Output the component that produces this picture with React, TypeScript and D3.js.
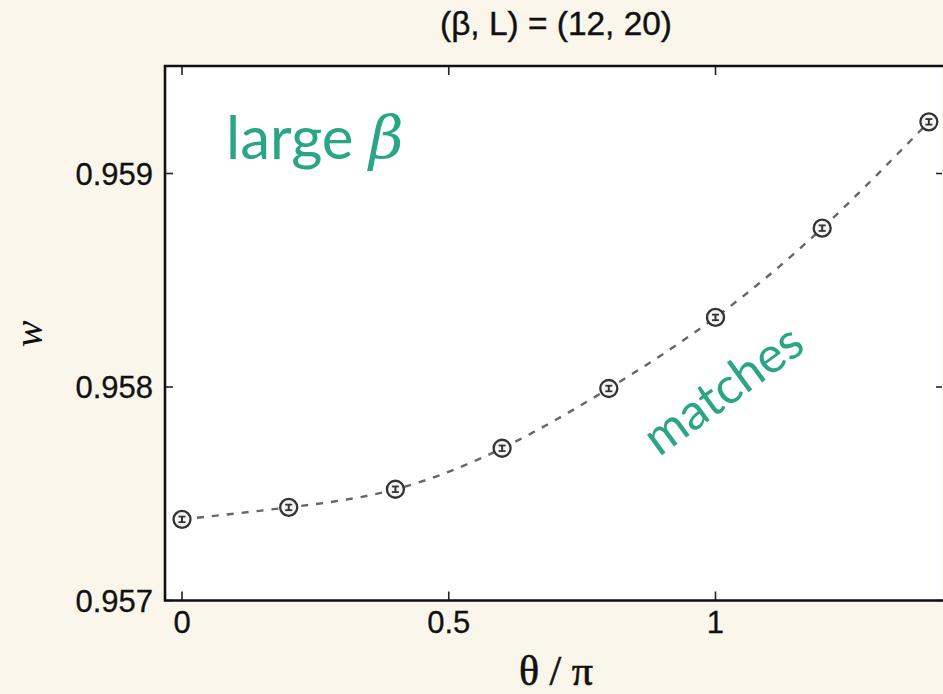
import React, { useRef, useEffect } from "react";
import * as d3 from "d3";

// measured points, theta in units of pi
const thetas = [0, 0.2, 0.4, 0.6, 0.8, 1.0, 1.2, 1.4];
const wValues = [0.95738, 0.957436, 0.957521, 0.957713, 0.957993, 0.958326, 0.958744, 0.959242];
const wErrors = [0.000013, 0.000013, 0.000013, 0.000013, 0.000013, 0.000013, 0.000013, 0.000013];

const xTicks = [0, 0.5, 1];
const xTickLabels = ["0", "0.5", "1"];
const yTicks = [0.957, 0.958, 0.959];
const yTickLabels = ["0.957", "0.958", "0.959"];

const TEAL = "#2aa585";

const App = () => {
  const ref = useRef<SVGSVGElement>(null);

  useEffect(() => {
    const width = 943;
    const height = 694;
    const left = 165;
    const right = 942;
    const top = 66;
    const bottom = 600.5;

    const svg = d3.select(ref.current);
    svg.selectAll("*").remove();

    svg.append("rect").attr("width", width).attr("height", height).attr("fill", "#fbf6eb");

    const x = d3.scaleLinear().domain([-0.0319, 1.4246]).range([left, right]);
    const y = d3.scaleLinear().domain([0.957, 0.9595]).range([bottom, top + 0.75]);

    // plot area
    svg
      .append("rect")
      .attr("x", left)
      .attr("y", top)
      .attr("width", right - left)
      .attr("height", bottom - top)
      .attr("fill", "#ffffff");

    // title
    svg
      .append("text")
      .attr("x", 556)
      .attr("y", 35)
      .attr("text-anchor", "middle")
      .attr("font-family", "'Liberation Sans', Arial, sans-serif")
      .attr("font-size", 33)
      .attr("fill", "#111")
      .attr("stroke", "#111")
      .attr("stroke-width", 0.4)
      .attr("textLength", 232)
      .attr("lengthAdjust", "spacingAndGlyphs")
      .text("(β, L) = (12, 20)");

    // ticks (inward, on all visible sides)
    const tickG = svg.append("g").attr("stroke", "#222").attr("stroke-width", 1.6);
    xTicks.forEach((t) => {
      tickG.append("line").attr("x1", x(t)).attr("x2", x(t)).attr("y1", bottom).attr("y2", bottom - 9);
      tickG.append("line").attr("x1", x(t)).attr("x2", x(t)).attr("y1", top).attr("y2", top + 9);
    });
    yTicks.forEach((t) => {
      tickG.append("line").attr("x1", left).attr("x2", left + 8).attr("y1", y(t)).attr("y2", y(t));
      tickG.append("line").attr("x1", right).attr("x2", right - 6).attr("y1", y(t)).attr("y2", y(t));
    });

    // frame: right side falls off the image
    svg
      .append("path")
      .attr("d", `M${right + 4},${top} H${left} V${bottom} H${right + 4}`)
      .attr("fill", "none")
      .attr("stroke", "#111")
      .attr("stroke-width", 2.6);

    // tick labels
    const labelFont = "'Liberation Sans', Arial, sans-serif";
    xTicks.forEach((t, i) => {
      svg
        .append("text")
        .attr("x", x(t))
        .attr("y", 633)
        .attr("text-anchor", "middle")
        .attr("font-family", labelFont)
        .attr("font-size", 31)
        .attr("fill", "#111")
        .attr("stroke", "#111")
        .attr("stroke-width", 0.3)
        .text(xTickLabels[i]);
    });
    yTicks.forEach((t, i) => {
      svg
        .append("text")
        .attr("x", 153)
        .attr("y", y(t) + 11)
        .attr("text-anchor", "end")
        .attr("font-family", labelFont)
        .attr("font-size", 31)
        .attr("fill", "#111")
        .attr("stroke", "#111")
        .attr("stroke-width", 0.3)
        .text(yTickLabels[i]);
    });

    // axis titles
    svg
      .append("text")
      .attr("x", 556)
      .attr("y", 685)
      .attr("text-anchor", "middle")
      .attr("font-family", "'Liberation Serif', 'Times New Roman', serif")
      .attr("font-size", 42)
      .attr("fill", "#111")
      .attr("stroke", "#111")
      .attr("stroke-width", 0.6)
      .text("θ / π");

    svg
      .append("text")
      .attr("transform", "translate(42,334) rotate(-90)")
      .attr("text-anchor", "middle")
      .attr("font-family", "'Liberation Serif', 'Times New Roman', serif")
      .attr("font-style", "italic")
      .attr("font-size", 40)
      .attr("fill", "#111")
      .text("w");

    // dashed curve through the points
    const pts: [number, number][] = thetas.map((t, i) => [t, wValues[i]]);
    const line = d3
      .line<[number, number]>()
      .x((d) => x(d[0]))
      .y((d) => y(d[1]))
      .curve(d3.curveNatural);
    svg
      .append("path")
      .attr("d", line(pts))
      .attr("fill", "none")
      .attr("stroke", "#666")
      .attr("stroke-width", 2.4)
      .attr("stroke-dasharray", "7 8");

    // markers with error bars
    const mk = svg.append("g").attr("stroke", "#333").attr("fill", "none");
    thetas.forEach((t, i) => {
      const cx = x(t);
      const cy = y(wValues[i]);
      const y1 = y(wValues[i] + wErrors[i]);
      const y2 = y(wValues[i] - wErrors[i]);
      mk.append("circle").attr("cx", cx).attr("cy", cy).attr("r", 8.5).attr("stroke-width", 2.3).attr("fill", "#f4f4f4");
      mk.append("line").attr("x1", cx).attr("x2", cx).attr("y1", y1).attr("y2", y2).attr("stroke-width", 2);
      mk.append("line").attr("x1", cx - 3.5).attr("x2", cx + 3.5).attr("y1", y1).attr("y2", y1).attr("stroke-width", 1.8);
      mk.append("line").attr("x1", cx - 3.5).attr("x2", cx + 3.5).attr("y1", y2).attr("y2", y2).attr("stroke-width", 1.8);
    });

    // annotations
    const annoFont = "Lato, 'Open Sans', sans-serif";
    const large = svg
      .append("text")
      .attr("x", 226)
      .attr("y", 159)
      .attr("font-family", annoFont)
      .attr("font-size", 60)
      .attr("fill", TEAL);
    large.append("tspan").text("large ");
    large
      .append("tspan")
      .attr("font-family", "'DejaVu Serif', serif")
      .attr("font-style", "italic")
      .text("β");

    svg
      .append("text")
      .attr("transform", "translate(722,388) rotate(-36)")
      .attr("text-anchor", "middle")
      .attr("dominant-baseline", "central")
      .attr("font-family", annoFont)
      .attr("font-size", 50)
      .attr("fill", TEAL)
      .text("matches");
  }, []);

  return (
    <svg
      ref={ref}
      width={943}
      height={694}
      style={{ position: "absolute", left: 0, top: 0 }}
    />
  );
};

export default App;
